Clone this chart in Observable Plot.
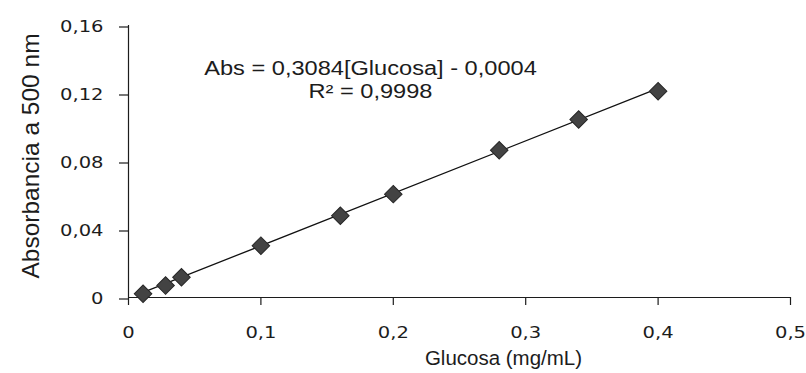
<!DOCTYPE html>
<html>
<head>
<meta charset="utf-8">
<script src="https://cdn.jsdelivr.net/npm/d3@7"></script>
<script src="https://cdn.jsdelivr.net/npm/@observablehq/plot@0.6"></script>
<style>
  body { margin: 0; background: #fff; }
  #chart svg { display: block; }
</style>
</head>
<body>
<div id="chart"></div>
<script>
// Curva de calibración: glucosa (mg/mL) frente a absorbancia a 500 nm
const glucosa = [0.011, 0.028, 0.040, 0.100, 0.160, 0.200, 0.280, 0.340, 0.400];
const absorbancia = [0.0022, 0.0070, 0.0119, 0.0305, 0.0481, 0.0608, 0.0866, 0.1047, 0.1213];

const xTicks = [0, 0.1, 0.2, 0.3, 0.4, 0.5];
const yTicks = [0, 0.04, 0.08, 0.12, 0.16];

// Ajuste lineal
const pendiente = 0.3084;
const intercepto = -0.0004;
const r2 = 0.9998;

const coma = (d) => String(d).replace(".", ",");
const ecuacion = [
  `Abs = ${coma(pendiente)}[Glucosa] - ${coma(-intercepto)}`,
  `R² = ${coma(r2)}`
];

const puntos = glucosa.map((g, i) => ({g, a: absorbancia[i]}));
const recta = d3.extent(glucosa).map((g) => ({g, a: pendiente * g + intercepto}));

const ink = "#1c1c1c";

const plot = Plot.plot({
  width: 806,
  height: 373,
  marginLeft: 128,
  marginRight: 16,
  marginTop: 25,
  marginBottom: 76,
  style: {fontFamily: "DejaVu Sans", fontSize: "16px", color: ink, background: "#fff"},
  x: {domain: [0, 0.5]},
  y: {domain: [0, 0.16]},
  marks: [
    Plot.axisX(xTicks, {tickSize: 8, tickPadding: 21, tickFormat: coma, label: null, stroke: ink, strokeWidth: 1.2}),
    Plot.axisY(yTicks, {tickSize: 9, tickPadding: 16, tickFormat: coma, label: null, stroke: ink, strokeWidth: 1.2, dy: 1.5}),
    Plot.ruleY([0], {x1: 0, x2: 0.5, stroke: ink, strokeWidth: 1.2}),
    Plot.ruleX([0], {y1: 0, y2: 0.16, stroke: ink, strokeWidth: 1.2}),
    Plot.line(recta, {x: "g", y: "a", stroke: "#111", strokeWidth: 1.3}),
    Plot.dot(puntos, {x: "g", y: "a", symbol: "square", rotate: 45, r: 7, fill: "#434343", stroke: "#262626", strokeWidth: 1}),
    Plot.text([ecuacion[0]], {frameAnchor: "top", textAnchor: "middle", lineAnchor: "bottom", dx: -89, dy: 49,
      fontFamily: "Liberation Sans", fontSize: 19.5, fill: ink}),
    Plot.text([ecuacion[1]], {frameAnchor: "top", textAnchor: "middle", lineAnchor: "bottom", dx: -89, dy: 72,
      fontFamily: "Liberation Sans", fontSize: 19.5, fill: ink}),
    Plot.text(["Glucosa (mg/mL)"], {frameAnchor: "bottom", textAnchor: "middle", lineAnchor: "bottom", dx: 44, dy: 67,
      fontFamily: "Liberation Sans", fontSize: 20.5, fill: ink}),
    Plot.text(["Absorbancia a 500 nm"], {frameAnchor: "left", textAnchor: "middle", lineAnchor: "bottom", rotate: -90, dx: -90, dy: -5.5,
      fontFamily: "Liberation Sans", fontSize: 24.5, fill: ink})
  ]
});

document.getElementById("chart").appendChild(plot);

// Letras ensanchadas en horizontal para las etiquetas de marcas y la ecuación
function ensanchar(nodes, factor) {
  nodes.forEach((t) => {
    const len = t.getComputedTextLength();
    t.setAttribute("textLength", (len * factor).toFixed(2));
    t.setAttribute("lengthAdjust", "spacingAndGlyphs");
  });
}
ensanchar(plot.querySelectorAll('g[aria-label="x-axis tick label"] text'), 1.22);
ensanchar(plot.querySelectorAll('g[aria-label="y-axis tick label"] text'), 1.22);
ensanchar([...plot.querySelectorAll("text")].filter((t) => ecuacion.includes(t.textContent)), 1.21);
</script>
</body>
</html>
